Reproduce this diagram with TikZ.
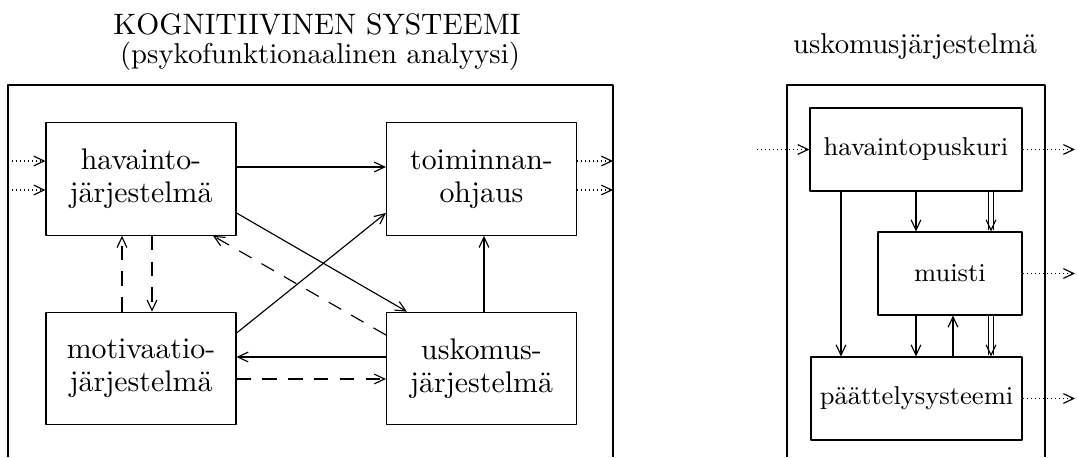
\documentclass[tikz,border=0pt]{standalone}
\usetikzlibrary{arrows.meta,calc}

\tikzset{
  box/.style={draw, align=center, inner sep=0pt},
  lbox/.style={box, minimum width=66.2pt, minimum height=39.2pt, font=\fontsize{10.4}{11.5}\selectfont},
  rbox/.style={box, minimum height=28.9pt, font=\fontsize{9}{10}\selectfont},
  dsh/.style={dash pattern=on 5pt off 4pt},
  dotline/.style={dash pattern=on 0.4pt off 1pt, line cap=butt},
  dbl/.style={double, double distance=1.5pt},
}

\begin{document}
\begin{tikzpicture}[x=0.34843pt, y=-0.34843pt, line join=round, >={Straight Barb[length=3.6pt,width=3.4pt]}]
	\useasboundingbox (0,0) rectangle (1077,457);
	\node[anchor=base, font=\fontsize{10.3}{12}\selectfont] (ttl) at (317,34) {KOGNITIIVINEN SYSTEEMI};
	\node[anchor=base] (subttl) at (320,63) {(psykofunktionaalinen analyysi)};
	\node[anchor=base] (rttl) at (915,53) {uskomusjärjestelmä};
	\draw (8,457) |- (613,85) -- (613,457);
	\draw (787,457) |- (1045,85) -- (1045,457);

	\node[lbox] (hav) at (141,179) {havainto-\\järjestelmä};
	\node[lbox] (tom) at (481.5,179) {toiminnan-\\ohjaus};
	\node[lbox] (mot) at (141,368.5) {motivaatio-\\järjestelmä};
	\node[lbox] (usk) at (481.5,368.5) {uskomus-\\järjestelmä};

	\coordinate (in1) at (8,161);
	\coordinate (in2) at (8,190);
	\coordinate (out1) at (613,161);
	\coordinate (out2) at (613,190);
	\coordinate (h1) at (0,167);
	\coordinate (h2) at (0,357);
	\coordinate (h3) at (0,379);
	\coordinate (v1) at (484,0);
	\coordinate (v2) at (122,0);
	\coordinate (v3) at (152,0);

	\draw[dotline,->] (in1) -- (in1 -| hav.west);
	\draw[dotline,->] (in2) -- (in2 -| hav.west);
	\draw[dotline,->] (out1 -| tom.east) -- (out1);
	\draw[dotline,->] (out2 -| tom.east) -- (out2);
	\draw[->] (hav.east |- h1) -- (tom.west |- h1);
	\draw[->] ($(hav.east)+(0,34)$) -- ($(usk.north west)+(21,0)$);
	\draw[->] ($(mot.east)+(0,-35.5)$) -- ($(tom.west)+(0,34)$);
	\draw[->] (usk.west |- h2) -- (mot.east |- h2);
	\draw[dsh,->] (mot.east |- h3) -- (usk.west |- h3);
	\draw[dsh,->] ($(usk.west)+(0,-33.5)$) -- ($(hav.south)+(72,0)$);
	\draw[->] (usk.north -| v1) -- (tom.south -| v1);
	\draw[dsh,->] (mot.north -| v2) -- (hav.south -| v2);
	\draw[dsh,->] (hav.south -| v3) -- (mot.north -| v3);

	\node[rbox, minimum width=73.9pt] (hp) at (916,149.5) {havaintopuskuri};
	\node[rbox, minimum width=50.2pt] (mu) at (950,273.5) {muisti};
	\node[rbox, minimum width=73.5pt] (paat) at (916.5,398.5) {päättelysysteemi};

	\coordinate (rin) at (757,0);
	\coordinate (rout) at (1075,0);
	\coordinate (c1) at (841,0);
	\coordinate (c2) at (916,0);
	\coordinate (c3) at (991,0);
	\coordinate (c4) at (953,0);

	\draw[dotline,->] (hp.west -| rin) -- (hp.west);
	\draw[dotline,->] (hp.east) -- (hp.east -| rout);
	\draw[dotline,->] (mu.east) -- (mu.east -| rout);
	\draw[dotline,->] (paat.east) -- (paat.east -| rout);
	\draw[->] (hp.south -| c1) -- (paat.north -| c1);
	\draw[->] (hp.south -| c2) -- (mu.north -| c2);
	\draw[dbl,->] (hp.south -| c3) -- (mu.north -| c3);
	\draw[->] (mu.south -| c2) -- (paat.north -| c2);
	\draw[->] (paat.north -| c4) -- (mu.south -| c4);
	\draw[dbl,->] (mu.south -| c3) -- (paat.north -| c3);
\end{tikzpicture}
\end{document}
